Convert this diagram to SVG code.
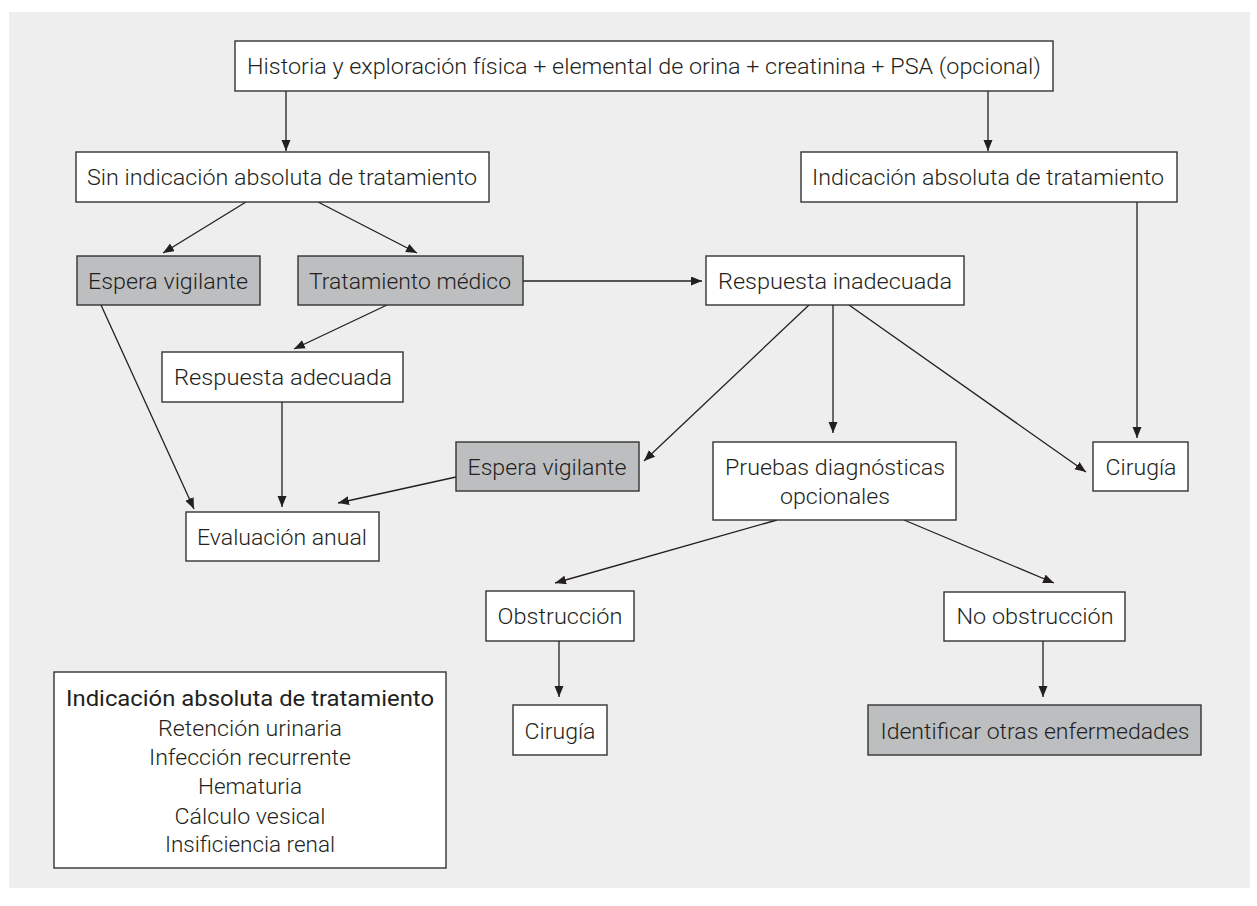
<svg xmlns="http://www.w3.org/2000/svg" width="1257" height="906" viewBox="0 0 1257 906">
<style>
.box{fill:#ffffff;stroke:#333333;stroke-width:1.4}
.grey{fill:#bdbec0;stroke:#333333;stroke-width:1.4}
.t{font-family:Roboto,"Liberation Sans",Arial,sans-serif;font-weight:300;font-size:22px;fill:#231f20;text-anchor:middle}
.hd{font-weight:400}
.ln{fill:none;stroke:#231f20;stroke-width:1.3;marker-end:url(#ah)}
</style>
<defs>
<marker id="ah" markerUnits="userSpaceOnUse" markerWidth="12" markerHeight="10" refX="11" refY="4.5" orient="auto">
<path d="M0,0 L11,4.5 L0,9 z" fill="#231f20"/>
</marker>
</defs>
<rect x="0" y="0" width="1257" height="906" fill="#ffffff"/>
<rect x="9" y="12" width="1241" height="876" fill="#eeeeee"/>

<g id="connectors">
<line class="ln" x1="286" y1="91" x2="286" y2="151"/>
<line class="ln" x1="988" y1="91" x2="988" y2="151"/>
<line class="ln" x1="246" y1="202" x2="163" y2="253"/>
<line class="ln" x1="318" y1="202" x2="417" y2="253"/>
<line class="ln" x1="523" y1="281" x2="702" y2="281"/>
<line class="ln" x1="387" y1="305" x2="294" y2="349"/>
<line class="ln" x1="101" y1="305" x2="194" y2="509"/>
<line class="ln" x1="282" y1="402" x2="282" y2="507"/>
<line class="ln" x1="456" y1="477" x2="338" y2="503"/>
<line class="ln" x1="809" y1="305" x2="644" y2="461"/>
<line class="ln" x1="833" y1="305" x2="833" y2="433"/>
<line class="ln" x1="849" y1="305" x2="1086" y2="472"/>
<line class="ln" x1="1137" y1="202" x2="1137" y2="438"/>
<line class="ln" x1="777" y1="520" x2="555" y2="583"/>
<line class="ln" x1="904" y1="520" x2="1054" y2="583"/>
<line class="ln" x1="559" y1="641" x2="559" y2="697"/>
<line class="ln" x1="1043" y1="641" x2="1043" y2="697"/>
</g>

<g id="n-historia">
<rect class="box" x="235" y="41" width="818" height="50"/>
<text class="t" x="644" y="74" textLength="794" lengthAdjust="spacingAndGlyphs">Historia y exploración física + elemental de orina + creatinina + PSA (opcional)</text>
</g>
<g id="n-sin-indicacion">
<rect class="box" x="76" y="152" width="413" height="50"/>
<text class="t" x="282" y="185" textLength="390" lengthAdjust="spacingAndGlyphs">Sin indicación absoluta de tratamiento</text>
</g>
<g id="n-indicacion">
<rect class="box" x="801" y="152" width="376" height="50"/>
<text class="t" x="988" y="185" textLength="352" lengthAdjust="spacingAndGlyphs">Indicación absoluta de tratamiento</text>
</g>
<g id="n-espera1">
<rect class="grey" x="77" y="256" width="183" height="49"/>
<text class="t" x="168" y="289" textLength="160" lengthAdjust="spacingAndGlyphs">Espera vigilante</text>
</g>
<g id="n-tratamiento">
<rect class="grey" x="298" y="256" width="225" height="49"/>
<text class="t" x="410" y="289" textLength="202" lengthAdjust="spacingAndGlyphs">Tratamiento médico</text>
</g>
<g id="n-resp-inadecuada">
<rect class="box" x="706" y="256" width="258" height="49"/>
<text class="t" x="835" y="289" textLength="234" lengthAdjust="spacingAndGlyphs">Respuesta inadecuada</text>
</g>
<g id="n-resp-adecuada">
<rect class="box" x="162" y="352" width="241" height="50"/>
<text class="t" x="283" y="385" textLength="218" lengthAdjust="spacingAndGlyphs">Respuesta adecuada</text>
</g>
<g id="n-espera2">
<rect class="grey" x="456" y="442" width="183" height="49"/>
<text class="t" x="547" y="475" textLength="159" lengthAdjust="spacingAndGlyphs">Espera vigilante</text>
</g>
<g id="n-pruebas">
<rect class="box" x="713" y="442" width="243" height="78"/>
<text class="t" x="835" y="475" textLength="220" lengthAdjust="spacingAndGlyphs">Pruebas diagnósticas</text>
<text class="t" x="835" y="504" textLength="110" lengthAdjust="spacingAndGlyphs">opcionales</text>
</g>
<g id="n-cirugia1">
<rect class="box" x="1093" y="442" width="95" height="49"/>
<text class="t" x="1141" y="475" textLength="71" lengthAdjust="spacingAndGlyphs">Cirugía</text>
</g>
<g id="n-evaluacion">
<rect class="box" x="186" y="512" width="193" height="49"/>
<text class="t" x="282" y="545" textLength="170" lengthAdjust="spacingAndGlyphs">Evaluación anual</text>
</g>
<g id="n-obstruccion">
<rect class="box" x="486" y="591" width="148" height="50"/>
<text class="t" x="560" y="624" textLength="125" lengthAdjust="spacingAndGlyphs">Obstrucción</text>
</g>
<g id="n-no-obstruccion">
<rect class="box" x="944" y="592" width="181" height="49"/>
<text class="t" x="1035" y="624" textLength="157" lengthAdjust="spacingAndGlyphs">No obstrucción</text>
</g>
<g id="n-cirugia2">
<rect class="box" x="513" y="705" width="94" height="50"/>
<text class="t" x="560" y="739" textLength="71" lengthAdjust="spacingAndGlyphs">Cirugía</text>
</g>
<g id="n-identificar">
<rect class="grey" x="868" y="705" width="333" height="50"/>
<text class="t" x="1035" y="739" textLength="309" lengthAdjust="spacingAndGlyphs">Identificar otras enfermedades</text>
</g>
<g id="n-leyenda">
<rect class="box" x="54" y="672" width="392" height="196"/>
<text class="t hd" x="250" y="706" textLength="368" lengthAdjust="spacingAndGlyphs">Indicación absoluta de tratamiento</text>
<text class="t" x="250" y="736" textLength="184" lengthAdjust="spacingAndGlyphs">Retención urinaria</text>
<text class="t" x="250" y="765" textLength="202" lengthAdjust="spacingAndGlyphs">Infección recurrente</text>
<text class="t" x="250" y="794" textLength="104" lengthAdjust="spacingAndGlyphs">Hematuria</text>
<text class="t" x="250" y="824" textLength="151" lengthAdjust="spacingAndGlyphs">Cálculo vesical</text>
<text class="t" x="250" y="852" textLength="170" lengthAdjust="spacingAndGlyphs">Insificiencia renal</text>
</g>
</svg>
